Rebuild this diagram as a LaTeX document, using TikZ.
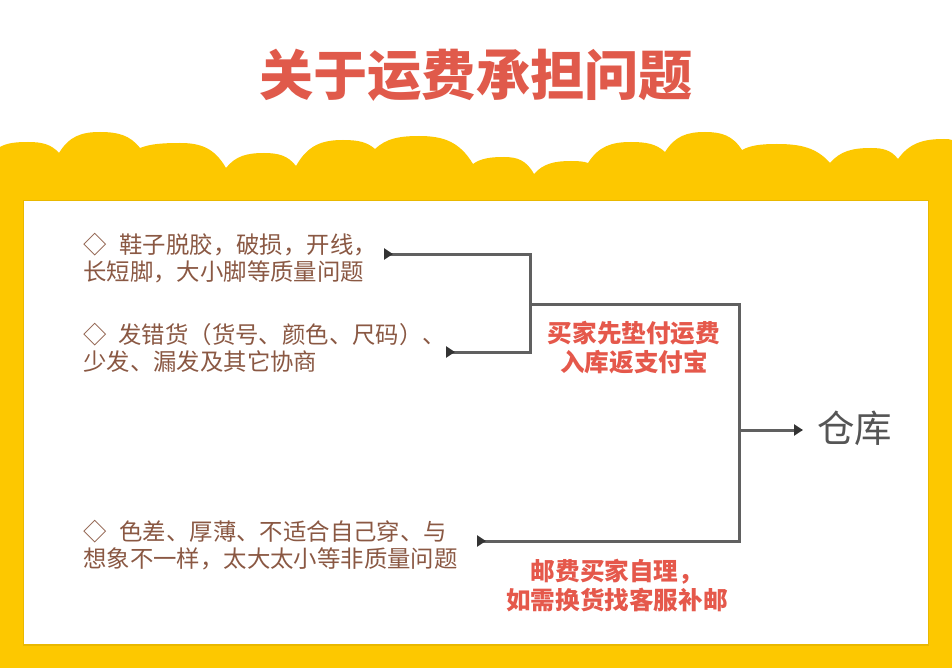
\documentclass[tikz,border=0pt]{standalone}
\usepackage{fontspec}
\newfontfamily\cjk{Noto Sans CJK SC}
\usetikzlibrary{arrows.meta}
\definecolor{ybg}{HTML}{FDC800}
\definecolor{yedge}{HTML}{E9B800}
\definecolor{tred}{HTML}{E05A4B}
\definecolor{lred}{HTML}{E5584B}
\definecolor{brown}{HTML}{8A5843}
\definecolor{lgray}{HTML}{606060}
\definecolor{cgray}{HTML}{555555}
\tikzset{
  lefttext/.style={anchor=west,inner sep=0pt,align=left,text=brown,
    font=\cjk\fontsize{23.4}{27}\selectfont},
  redtext/.style={inner sep=0pt,align=center,text=lred,
    font=\cjk\bfseries\fontsize{24.6}{29}\selectfont},
  conn/.style={draw=lgray,line width=3pt},
}
\begin{document}
\begin{tikzpicture}[x=1pt,y=-1pt]
\useasboundingbox (0,0) rectangle (952,668);
\fill[white] (0,0) rectangle (952,668);
% yellow wavy background
\fill[ybg] (0,147)
  \foreach \px/\py/\vx/\vy [remember=\vx as \ax (initially 0), remember=\vy as \ay (initially 147)] in
  {28/142/59/153, 100/132/140/148, 180/143/226/168, 264/153/296/166,
   343/140/375/149, 419/136/473/164, 504/157/534/174, 571/161/588/163,
   631/142/665/152, 705/132/742/150, 777/144/830/163, 871/148/898/159,
   944/139/952/140}
  { .. controls +({0.25*(\px-\ax)},{-0.8*(\ay-\py)}) and +({-0.45*(\px-\ax)},0) .. (\px,\py)
    .. controls +({0.45*(\vx-\px)},0) and +({-0.25*(\vx-\px)},{-0.8*(\vy-\py)}) .. (\vx,\vy) }
  -- (952,668) -- (0,668) -- cycle;
% white panel
\fill[yedge] (23,200) rectangle (929,646);
\fill[white] (24,201) rectangle (928,644);
% title
\node[inner sep=0pt,text=tred,font=\cjk\bfseries\fontsize{54.2}{60}\selectfont] (title) at (476,75) {关于运费承担问题};
% left texts
\node[lefttext] (t1) at (83,258.5) {◇\hspace{13pt}鞋子脱胶，破损，开线，\\长短脚，大小脚等质量问题};
\node[lefttext] (t2) at (83,347.5) {◇\hspace{12pt}发错货（货号、颜色、尺码）、\\少发、漏发及其它协商};
\node[lefttext] (t3) at (83,545) {◇\hspace{13pt}色差、厚薄、不适合自己穿、与\\想象不一样，太大太小等非质量问题};
% red labels
\node[redtext] (r1) at (634,348) {买家先垫付运费\\入库返支付宝};
\node[redtext] (r2) at (617,586) {邮费买家自理，\\如需换货找客服补邮};
% warehouse
\node[inner sep=0pt,anchor=west,text=cgray,font=\cjk\fontsize{37.5}{40}\selectfont] (ck) at (817,428) {仓库};
% connectors
\coordinate (a1) at (384,254);
\coordinate (a2) at (446,352);
\coordinate (a3) at (477,541);
\coordinate (j1) at (530,254);
\coordinate (j2) at (530,352);
\coordinate (m1) at (530,304);
\coordinate (m2) at (739,304);
\coordinate (m3) at (739,541);
\coordinate (k1) at (739,430);
\draw[conn,{Triangle[reversed,length=9pt,width=11pt,color=black!80]}-{Triangle[reversed,length=9pt,width=11pt,color=black!80]}] (a1) -- (j1) -- (j2) -- (a2);
\draw[conn,-{Triangle[reversed,length=9pt,width=11pt,color=black!80]}] (m1) -- (m2) -- (m3) -- (a3);
\draw[conn,-{Triangle[length=9pt,width=11pt,color=black!80]}] (k1) -- ([xshift=-14pt]ck.west |- k1);
\end{tikzpicture}
\end{document}
